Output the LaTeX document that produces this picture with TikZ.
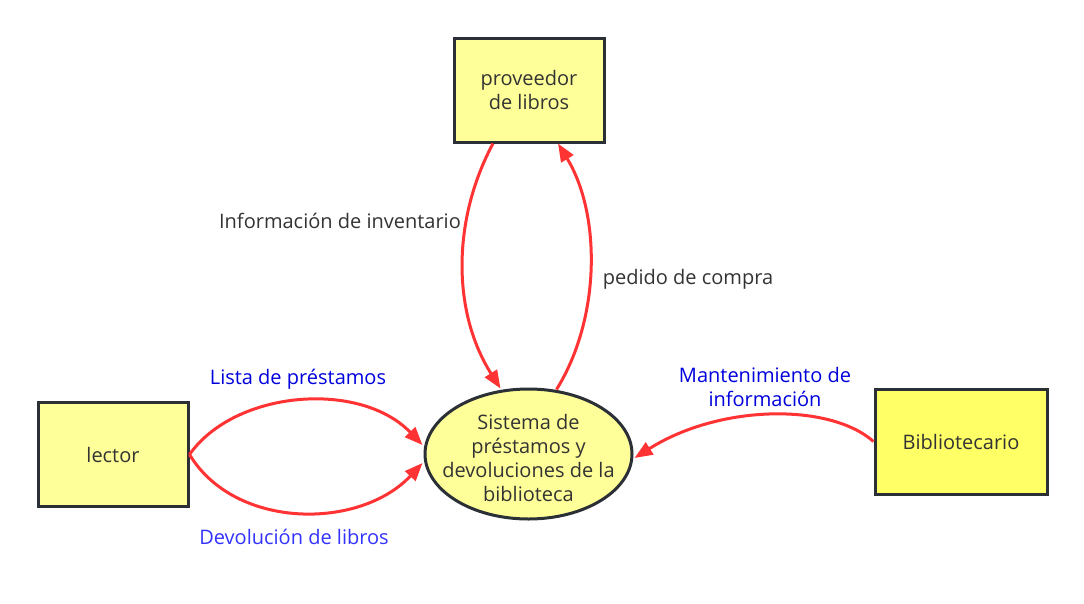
\documentclass[tikz,border=0pt]{standalone}
\usepackage{fontspec}
\setmainfont{Open Sans}
\usetikzlibrary{arrows.meta,shapes.geometric,calc}
\definecolor{boxfill}{HTML}{FFFF99}
\definecolor{boxfillb}{HTML}{FFFF66}
\definecolor{edgeline}{HTML}{2B3036}
\definecolor{flow}{HTML}{FF3333}
\definecolor{txt}{HTML}{333333}
\definecolor{lblue}{HTML}{0000DD}
\definecolor{lblueb}{HTML}{3333FF}
\tikzset{
  entity/.style={draw=edgeline, line width=3pt, fill=boxfill, minimum width=150pt, minimum height=104pt, align=center, text=txt, inner sep=0pt},
  proc/.style={ellipse, draw=edgeline, line width=3pt, fill=boxfill, minimum width=207pt, minimum height=130pt, inner sep=0pt},
  flowline/.style={draw=flow, line width=3pt, -{Triangle[length=18pt,width=14pt]}},
  lbl/.style={align=center, inner sep=0pt},
}
\begin{document}
\begin{tikzpicture}[x=1pt,y=-1pt, every node/.style={font=\fontsize{20}{24}\selectfont}]
\useasboundingbox (0,0) rectangle (1084,603);
\fill[white] (0,0) rectangle (1084,603);
\node[entity] (prov) at (529,90) {proveedor\\de libros};
\node[entity] (lector) at (113,454.5) {lector};
\node[entity, fill=boxfillb, minimum width=172pt, minimum height=105pt] (bib) at (961,441.5) {Bibliotecario};
\node[proc] (sys) at (528.5,454) {};
\node[lbl, text=txt] (systxt) at ($(sys.center)+(0,4)$) {Sistema de\\préstamos y\\devoluciones de la\\biblioteca};
\coordinate (p1) at ($(prov.south)+(-36,0)$);
\coordinate (p2) at ($(prov.south)+(29,0)$);
\coordinate (s1) at ($(sys.north)+(-28,1)$);
\coordinate (s2) at ($(sys.north)+(28,2)$);
\draw[flowline] (p1) .. controls (452,220) and (452,312) .. (s1);
\draw[flowline] (s2) .. controls (601,318) and (601,214) .. (p2);
\draw[flowline] (lector.east) .. controls (235,390) and (360,380) .. ($(sys.west)+(-1,-9)$);
\draw[flowline] (lector.east) .. controls (235,530) and (360,530) .. ($(sys.west)+(-1,9)$);
\draw[flowline] (bib.west) .. controls (830,403) and (720,404) .. ($(sys.east)+(1,4)$);
\node[lbl, text=txt] (l1) at (340,221) {Información de inventario};
\node[lbl, text=txt] (l2) at (688,279) {pedido de compra};
\node[lbl, text=lblue] (l3) at (298,379) {Lista de préstamos};
\node[lbl, text=lblueb] (l4) at (294,537) {Devolución de libros};
\node[lbl, text=lblue] (l5) at (765,387) {Mantenimiento de\\información};
\end{tikzpicture}
\end{document}
